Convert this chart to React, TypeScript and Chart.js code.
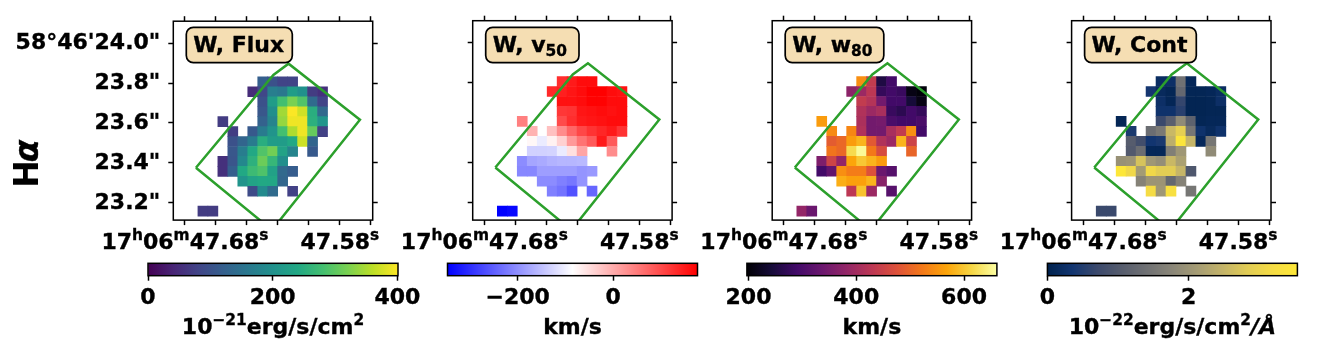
import React, { useEffect, useRef } from "react";
import { Chart, registerables } from "chart.js";

Chart.register(...registerables);

const _ = null;

const fluxGrid = [
  [_,_,_,_,_,_,120,100,80,80,_,_,_],
  [_,_,_,_,_,50,85,170,160,220,200,70,55],
  [_,_,_,_,_,_,100,220,280,320,290,140,80],
  [_,_,_,_,_,_,108,195,345,400,372,250,136],
  [_,_,70,_,_,_,125,180,337,392,392,252,208],
  [_,_,_,72,_,112,165,205,280,352,392,305,76],
  [_,_,_,100,130,165,250,220,220,240,370,130,_],
  [_,_,_,108,168,240,290,315,230,180,_,112,_],
  [_,_,55,105,185,255,310,265,195,_,_,_,_],
  [_,_,55,120,240,272,288,228,136,118,_,_,_],
  [_,_,_,_,205,232,240,238,132,_,_,_,_],
  [_,_,_,_,_,90,190,140,_,77,_,_,_],
  [_,_,_,_,_,_,_,_,_,_,_,_,_],
  [70,70,_,_,_,_,_,_,_,_,_,_,_],
];

const v50Grid = [
  [_,_,_,_,_,_,130,150,165,165,_,_,_],
  [_,_,_,_,_,135,145,155,165,177,177,165,160],
  [_,_,_,_,_,_,160,160,165,175,175,165,165],
  [_,_,_,_,_,_,120,125,155,160,165,160,165],
  [_,_,46,_,_,_,100,130,150,155,160,165,165],
  [_,_,_,-6,_,-20,33,72,104,125,138,151,125],
  [_,_,_,-77,-106,-72,-38,20,59,85,151,85,_],
  [_,_,_,-132,-132,-130,-106,-53,7,_,_,33,_],
  [_,_,-203,-177,-172,-164,-160,-160,-157,_,_,_,_],
  [_,_,-208,-208,-185,-185,-185,-185,-195,-190,_,_,_],
  [_,_,_,_,-203,-203,-216,-225,-195,_,_,_,_],
  [_,_,_,_,_,-216,-229,-263,_,-242,_,_,_],
  [_,_,_,_,_,_,_,_,_,_,_,_,_],
  [-347,-340,_,_,_,_,_,_,_,_,_,_,_],
];

const w80Grid = [
  [_,_,_,_,_,_,545,438,253,290,_,_,_],
  [_,_,_,_,_,373,392,429,276,290,280,211,202],
  [_,_,_,_,_,_,438,420,345,290,290,243,211],
  [_,_,_,_,_,_,415,392,406,280,267,290,276],
  [_,_,559,_,_,_,410,345,350,299,290,290,299],
  [_,_,_,540,_,536,415,345,345,406,438,545,290],
  [_,_,_,489,503,559,582,485,415,392,582,452,_],
  [_,_,_,517,503,619,655,522,466,_,_,499,_],
  [_,_,359,452,383,568,601,582,559,_,_,_,_],
  [_,_,290,327,545,526,526,475,336,313,_,_,_],
  [_,_,_,_,577,563,563,582,369,_,_,_,_],
  [_,_,_,_,_,429,596,392,_,313,_,_,_],
  [_,_,_,_,_,_,_,_,_,_,_,_,_],
  [383,336,_,_,_,_,_,_,_,_,_,_,_],
];

const contGrid = [
  [_,_,_,_,_,_,0.2,0.25,1.42,0.1,_,_,_],
  [_,_,_,_,_,0.38,0.15,0.07,1.24,0.07,0.07,0.1,0.2],
  [_,_,_,_,_,_,0.25,0.08,0.65,0.05,0.05,0.07,0.25],
  [_,_,_,_,_,_,0.3,0.3,0.55,0.05,0.05,0.07,0.07],
  [_,_,0.07,_,_,_,0.7,1.1,1.85,1.15,0.07,0.1,0.1],
  [_,_,_,0.42,_,1.35,1.55,2.55,2.9,1.5,0.3,0.15,0.3],
  [_,_,_,1.05,0.8,0.35,0.42,2.4,3.45,2.5,0.12,1.5,_],
  [_,_,_,1.0,1.35,0.1,0.1,1.65,2.05,_,_,1.85,_],
  [_,_,1.95,2.0,2.7,2.05,1.9,2.55,2.2,_,_,_,_],
  [_,_,3.52,3.1,2.1,3.1,2.85,2.85,2.5,0.95,_,_,_],
  [_,_,_,_,1.7,2.0,2.0,1.25,1.7,_,_,_,_],
  [_,_,_,_,_,3.2,2.05,3.3,_,1.5,_,_,_],
  [_,_,_,_,_,_,_,_,_,_,_,_,_],
  [0.7,0.7,_,_,_,_,_,_,_,_,_,_,_],
];

const slitCol = [-0.2, 7.57, 9.09, 16.25, 7.43, -0.2];
const slitRow = [4.87, 14.2, 15.33, 9.7, -1.4, 4.87];

const raTicks = [47.68, 47.66, 47.64, 47.62, 47.6, 47.58, 47.56];
const raLabelTicks = [47.68, 47.58];
const raLabelParts = [
  [["17", "n"], ["h", "sup"], ["06", "n"], ["m", "sup"], ["47.68", "n"], ["s", "sup"]],
  [["47.58", "n"], ["s", "sup"]],
];
const decTicks = [24.0, 23.8, 23.6, 23.4, 23.2];
const decLabels = ["58°46'24.0\"", '23.8"', '23.6"', '23.4"', '23.2"'];

const viridis = ["#440154","#482475","#414487","#355f8d","#2a788e","#21918c","#22a884","#44bf70","#7ad151","#bddf26","#fde725"];
const bwr = ["#0000ff","#ffffff","#ff0000"];
const inferno = ["#000004","#160b39","#420a68","#6a176e","#932667","#bc3754","#dd513a","#f37819","#fca50a","#f6d746","#fcffa4"];
const cividis = ["#00224e","#123570","#3b496c","#575d6d","#707173","#8a8678","#a59c74","#c3b369","#e1cc55","#f5dc45","#fee838"];

const FONT = "'DejaVu Sans'";
const FS = 22;
const TICK_W = 1.5;
const STROKE = 0.35;

const panels = [
  { grid: fluxGrid, cmap: viridis, min: 0, max: 401, title: [["W, Flux", "n"]], boxW: 106, left: 173.3, barLeft: 148,
    ticks: [0, 200, 400], barLabel: [["10", "n"], ["−21", "sup"], ["erg/s/cm", "n"], ["2", "sup"]] },
  { grid: v50Grid, cmap: bwr, min: -347, max: 177, title: [["W, v", "n"], ["50", "sub"]], boxW: 93.3, left: 472.7, barLeft: 447.5,
    ticks: [-200, 0], barLabel: [["km/s", "n"]] },
  { grid: w80Grid, cmap: inferno, min: 197, max: 661, title: [["W, w", "n"], ["80", "sub"]], boxW: 98.6, left: 772.2, barLeft: 746.9,
    ticks: [200, 400, 600], barLabel: [["km/s", "n"]] },
  { grid: contGrid, cmap: cividis, min: 0, max: 3.54, title: [["W, Cont", "n"]], boxW: 111.7, left: 1071.6, barLeft: 1047.4,
    ticks: [0, 2], barLabel: [["10", "n"], ["−22", "sup"], ["erg/s/cm", "n"], ["2", "sup"], ["/Å", "it"]] },
];

function hex(c: string) {
  return [1, 3, 5].map((i) => parseInt(c.slice(i, i + 2), 16));
}
function cmapColor(cmap: string[], t: number) {
  const u = Math.min(1, Math.max(0, t)) * (cmap.length - 1);
  const i = Math.min(cmap.length - 2, Math.floor(u));
  const a = hex(cmap[i]);
  const b = hex(cmap[i + 1]);
  const f = u - i;
  const m = a.map((x, k) => Math.round(x + (b[k] - x) * f));
  return `rgb(${m[0]},${m[1]},${m[2]})`;
}

function partFont(kind: string) {
  if (kind === "sup" || kind === "sub") return `bold ${FS * 0.7}px ${FONT}`;
  if (kind === "it") return `italic bold ${FS}px ${FONT}`;
  return `bold ${FS}px ${FONT}`;
}

function partsWidth(ctx: any, parts: any[]) {
  let w = 0;
  for (const [s, kind] of parts) {
    ctx.font = partFont(kind);
    w += ctx.measureText(s).width;
  }
  return w;
}

function drawParts(ctx: any, parts: any[], x: number, y: number) {
  ctx.fillStyle = "#000";
  ctx.strokeStyle = "#000";
  ctx.lineWidth = STROKE;
  ctx.textAlign = "left";
  ctx.textBaseline = "alphabetic";
  let tx = x;
  for (const [s, kind] of parts) {
    ctx.font = partFont(kind);
    const dy = kind === "sup" ? -0.4 * FS : kind === "sub" ? 0.18 * FS : 0;
    ctx.fillText(s, tx, y + dy);
    ctx.strokeText(s, tx, y + dy);
    tx += ctx.measureText(s).width;
  }
}

const framePlugin = {
  id: "frame",
  afterDraw(chart: any) {
    const { ctx, chartArea: a } = chart;
    ctx.save();
    ctx.strokeStyle = "#000";
    ctx.lineWidth = TICK_W;
    ctx.strokeRect(a.left, a.top, a.right - a.left, a.bottom - a.top);
    ctx.restore();
  },
};

function boxPlugin(title: any[], boxW: number) {
  return {
    id: "box",
    afterDraw(chart: any) {
      const { ctx, chartArea: a } = chart;
      const x = a.left + 13;
      const y = 27.3;
      ctx.save();
      ctx.beginPath();
      ctx.roundRect(x, y, boxW, 35.3, 7);
      ctx.fillStyle = "#f5deb3";
      ctx.fill();
      ctx.lineWidth = 1.7;
      ctx.strokeStyle = "#000";
      ctx.stroke();
      drawParts(ctx, title, x + 7, 51.7);
      ctx.restore();
    },
  };
}

const raLabelPlugin = {
  id: "raLabels",
  afterDraw(chart: any) {
    const { ctx, scales } = chart;
    ctx.save();
    raLabelTicks.forEach((v, i) => {
      const cx = scales.raB.getPixelForValue(v);
      const w = partsWidth(ctx, raLabelParts[i]);
      drawParts(ctx, raLabelParts[i], cx - w / 2, 249);
    });
    ctx.restore();
  },
};

const rowLabelPlugin = {
  id: "rowLabel",
  afterDraw(chart: any) {
    const { ctx } = chart;
    ctx.save();
    ctx.translate(37.7, 187.8);
    ctx.rotate(-Math.PI / 2);
    ctx.fillStyle = "#000";
    ctx.strokeStyle = "#000";
    ctx.lineWidth = STROKE;
    ctx.textAlign = "left";
    ctx.textBaseline = "alphabetic";
    ctx.font = `bold 33px ${FONT}`;
    ctx.fillText("H", 0, 0);
    const w = ctx.measureText("H").width;
    ctx.font = `italic bold 33px ${FONT}`;
    ctx.fillText("α", w - 2, 0);
    ctx.strokeText("α", w - 2, 0);
    ctx.restore();
  },
};

function barTitlePlugin(parts: any[]) {
  return {
    id: "barTitle",
    afterDraw(chart: any) {
      const { ctx, chartArea: a } = chart;
      ctx.save();
      const w = partsWidth(ctx, parts);
      drawParts(ctx, parts, (a.left + a.right) / 2 - w / 2, 334 - BAR_CANVAS_TOP);
      ctx.restore();
    },
  };
}

const SIZE = 199.4;
const CANVAS_W = 410;
const CANVAS_H = 260;
const AREA_TOP = 20.7;

function panelConfig(p: any, index: number, L: number) {
  const bars: any[] = [];
  const colors: string[] = [];
  p.grid.forEach((row: (number | null)[], r: number) => {
    row.forEach((v, c) => {
      if (v === null) return;
      const b = 13 - r;
      bars.push({ x: c + 0.5, y: [b, b + 1] });
      colors.push(cmapColor(p.cmap, (v - p.min) / (p.max - p.min)));
    });
  });
  const tickGrid = { drawOnChartArea: false, drawTicks: true, tickLength: 5, tickWidth: TICK_W, tickColor: "#000", color: "#000" };
  const setRa = (axis: any) => { axis.ticks = raTicks.map((value) => ({ value })); };
  const setDec = (axis: any) => { axis.ticks = decTicks.map((value) => ({ value })); };
  const raMin = 47.5588, raMax = 47.6875, decMin = 23.1135, decMax = 24.11;
  const extra = index === 0 ? [rowLabelPlugin] : [];
  return {
    type: "bar",
    data: {
      datasets: [
        { type: "line", data: slitCol.map((x, i) => ({ x, y: slitRow[i] })), xAxisID: "col", yAxisID: "row",
          borderColor: "#2ca02c", borderWidth: 2.5, pointRadius: 0, tension: 0, fill: false, order: 0 },
        { type: "bar", data: bars, xAxisID: "col", yAxisID: "row", backgroundColor: colors, borderWidth: 0,
          barPercentage: 1, categoryPercentage: 1, order: 1 },
      ],
    },
    options: {
      animation: false, responsive: false, events: [],
      layout: { padding: 0, autoPadding: false },
      plugins: { legend: { display: false }, tooltip: { enabled: false }, title: { display: false } },
      scales: {
        col: { type: "linear", axis: "x", display: false, min: -2.47, max: 17.53, offset: false, grid: { offset: false } },
        row: { type: "linear", axis: "y", display: false, min: -0.4, max: 19.6 },
        raB: { type: "linear", axis: "x", position: "bottom", min: raMin, max: raMax, reverse: true, offset: false,
          grid: { ...tickGrid, offset: false }, border: { display: false }, afterBuildTicks: setRa,
          afterFit: (s: any) => { s.height = CANVAS_H - AREA_TOP - SIZE; },
          ticks: { display: false, autoSkip: false, maxRotation: 0, minRotation: 0 } },
        raT: { type: "linear", axis: "x", position: "top", min: raMin, max: raMax, reverse: true, offset: false,
          grid: { ...tickGrid, offset: false }, border: { display: false }, afterBuildTicks: setRa,
          afterFit: (s: any) => { s.height = AREA_TOP; },
          ticks: { display: false, autoSkip: false, maxRotation: 0, minRotation: 0 } },
        decL: { type: "linear", axis: "y", position: "left", min: decMin, max: decMax,
          grid: tickGrid, border: { display: false }, afterBuildTicks: setDec,
          afterFit: (s: any) => { s.width = L; },
          ticks: { display: index === 0, autoSkip: false, padding: 8, color: "#000", textStrokeColor: "#000", textStrokeWidth: STROKE,
            font: { family: FONT, weight: "bold", size: FS }, callback: (_v: any, i: number) => decLabels[i] } },
        decR: { type: "linear", axis: "y", position: "right", min: decMin, max: decMax,
          grid: tickGrid, border: { display: false }, afterBuildTicks: setDec,
          afterFit: (s: any) => { s.width = CANVAS_W - L - SIZE; },
          ticks: { display: false, autoSkip: false } },
      },
    },
    plugins: [framePlugin, boxPlugin(p.title, p.boxW), raLabelPlugin, ...extra],
  };
}

const BAR_W = 250;
const BAR_H = 12.4;
const BAR_PAD = 40;
const BAR_CANVAS_TOP = 258;
const BAR_CANVAS_H = 98;

function barConfig(p: any, L: number) {
  return {
    type: "bar",
    data: {
      labels: [""],
      datasets: [
        {
          data: [[p.min, p.max]],
          barPercentage: 1,
          categoryPercentage: 1,
          borderWidth: 0,
          backgroundColor: (ctx: any) => {
            const a = ctx.chart.chartArea;
            if (!a) return "#fff";
            const g = ctx.chart.ctx.createLinearGradient(a.left, 0, a.right, 0);
            p.cmap.forEach((c: string, i: number) => g.addColorStop(i / (p.cmap.length - 1), c));
            return g;
          },
        },
      ],
    },
    options: {
      indexAxis: "y",
      animation: false, responsive: false, events: [],
      layout: { padding: { top: 5.3, left: L, right: 2 * BAR_PAD + BAR_W - L - BAR_W, bottom: 0 }, autoPadding: false },
      plugins: { legend: { display: false }, tooltip: { enabled: false }, title: { display: false } },
      scales: {
        y: { type: "category", display: false },
        x: { type: "linear", position: "bottom", min: p.min, max: p.max, offset: false,
          grid: { drawOnChartArea: false, drawTicks: true, tickLength: 5, tickWidth: TICK_W, tickColor: "#000", offset: false },
          border: { display: false },
          afterBuildTicks: (axis: any) => { axis.ticks = p.ticks.map((value: number) => ({ value })); },
          afterFit: (s: any) => { s.height = BAR_CANVAS_H - 5.3 - BAR_H; },
          ticks: { autoSkip: false, maxRotation: 0, minRotation: 0, padding: 4.5, color: "#000", textStrokeColor: "#000", textStrokeWidth: STROKE,
            font: { family: FONT, weight: "bold", size: FS },
            callback: (v: number) => (v < 0 ? "−" + Math.abs(v) : String(v)) } },
      },
    },
    plugins: [framePlugin, barTitlePlugin(p.barLabel)],
  };
}

function Holder({ make, left, top, width, height }: any) {
  const ref = useRef<HTMLCanvasElement>(null);
  useEffect(() => {
    const chart = new Chart(ref.current as any, make());
    return () => chart.destroy();
  }, []);
  return (
    <canvas
      ref={ref}
      width={width}
      height={height}
      style={{ position: "absolute", left, top, width, height, display: "block" }}
    />
  );
}

export default function App() {
  return (
    <div style={{ position: "fixed", left: 0, top: 0, width: 1328, height: 356, background: "#fff", overflow: "hidden" }}>
      {panels.map((p, i) => {
        const cl = Math.floor(p.left) - 173;
        const L = p.left - cl;
        return (
          <Holder key={"p" + i} make={() => panelConfig(p, i, L)} left={cl} top={0} width={CANVAS_W} height={CANVAS_H} />
        );
      })}
      {panels.map((p, i) => {
        const cl = Math.floor(p.barLeft) - BAR_PAD;
        return (
          <Holder key={"b" + i} make={() => barConfig(p, p.barLeft - cl)} left={cl} top={BAR_CANVAS_TOP} width={BAR_W + 2 * BAR_PAD} height={BAR_CANVAS_H} />
        );
      })}
    </div>
  );
}
